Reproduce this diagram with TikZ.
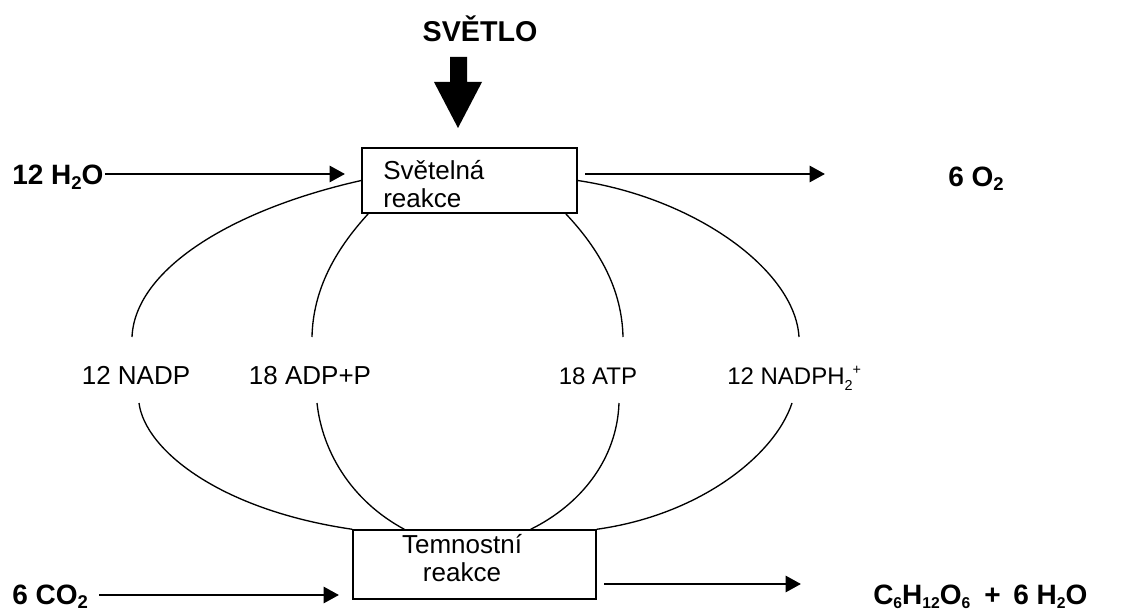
\documentclass[tikz,border=0pt]{standalone}
\usepackage{fontspec}
\setmainfont{Liberation Sans}
\usetikzlibrary{arrows.meta,calc}
\newcommand\lo[1]{\raisebox{-0.28ex}{\scalebox{0.66}{#1}}}
\newcommand\los[1]{\raisebox{-0.28ex}{\scalebox{0.56}{#1}}}
\begin{document}
\begin{tikzpicture}[x=0.75pt,y=-0.75pt,
  lbl/.style={font=\fontsize{19.5}{21}\selectfont, inner sep=0pt, anchor=base},
  lbls/.style={font=\fontsize{18}{21}\selectfont, inner sep=0pt, anchor=base},
  chem/.style={font=\fontsize{21}{24}\selectfont\bfseries, inner sep=0pt, anchor=base west},
  box/.style={draw, line width=1.1pt, inner sep=0pt},
  arr/.style={line width=2pt, -{Triangle[length=11.5pt,width=12pt]}},
  curve/.style={line width=1pt}]
\useasboundingbox (0,0) rectangle (1136,610);
% title and light arrow
\node[font=\fontsize{21.5}{24}\selectfont\bfseries, inner sep=0pt] (light) at (480,29) {SVĚTLO};
\fill (450,57) -- (467,57) -- (467,82) -- (482,82) -- (458,128) -- (434,82) -- (450,82) -- cycle;
% boxes
\node[box, minimum width=161.25pt, minimum height=48.75pt] (top) at (469.5,180.5) {};
\node[align=left, inner sep=0pt, anchor=west, font=\fontsize{19.5}{21}\selectfont] (toptxt) at (383,184.5) {Světelná\\reakce};
\node[box, minimum width=182.25pt, minimum height=51.75pt] (bot) at (474.5,564.5) {};
\node[align=center, inner sep=0pt, font=\fontsize{19.5}{21}\selectfont] (bottxt) at (462,558) {Temnostní\\reakce};
% chemicals
\node[chem] (h2o) at (12,185) {12 H\lo{2}O};
\node[chem] (o2) at (948,186) {6 O\lo{2}};
\node[chem] (co2) at (12,604) {6 CO\lo{2}};
\node[chem] (glc) at (873,604) {C\los{6}H\los{12}O\los{6}\hspace{0.5em}+\hspace{0.45em}6 H\los{2}O};
% arrow ends
\coordinate (h2oS) at (105,174);
\coordinate (h2oT) at (345,174);
\coordinate (o2S) at (585,174);
\coordinate (o2T) at (825,174);
\coordinate (co2S) at (99,595);
\coordinate (co2T) at (339,595);
\coordinate (glcS) at (604,584);
\coordinate (glcT) at (801,584);
\draw[arr] (h2oS) -- (h2oT);
\draw[arr] (o2S) -- (o2T);
\draw[arr] (co2S) -- (co2T);
\draw[arr] (glcS) -- (glcT);
% labels
\node[lbl] (nadp) at (136,384) {12 NADP};
\node[lbl] (adp) at (310,384) {18 ADP+P};
\node[lbls] (atp) at (598,384) {18 ATP};
\node[lbls, anchor=base west] (nadph) at (727,384) {12 NADPH\raisebox{-0.27em}{\scalebox{0.6}{2}}\raisebox{0.4em}{\scalebox{0.6}{+}}};
% curve gap ends
\coordinate (nadpT) at (132,337);
\coordinate (nadpB) at (139,403);
\coordinate (adpT) at (312,337);
\coordinate (adpB) at (317,403);
\coordinate (atpT) at (623,337);
\coordinate (atpB) at (619,403);
\coordinate (nadphT) at (799,337);
\coordinate (nadphB) at (792,403);
% curves
\draw[curve] (top.west) .. controls (230,210) and (135,270) .. (nadpT);
\draw[curve] (nadpB) .. controls (145,450) and (220,510) .. (bot.north west);
\draw[curve] ($(top.south west)+(7,0)$) .. controls (335,250) and (313,290) .. (adpT);
\draw[curve] (adpB) .. controls (322,450) and (350,500) .. ($(bot.north west)+(52,0)$);
\draw[curve] (top.east) .. controls (695,198) and (795,270) .. (nadphT);
\draw[curve] (nadphB) .. controls (775,455) and (700,515) .. (bot.north east);
\draw[curve] ($(top.south east)+(-12,0)$) .. controls (600,250) and (622,290) .. (atpT);
\draw[curve] (atpB) .. controls (617,460) and (580,505) .. ($(bot.north east)+(-66,0)$);
\end{tikzpicture}
\end{document}
